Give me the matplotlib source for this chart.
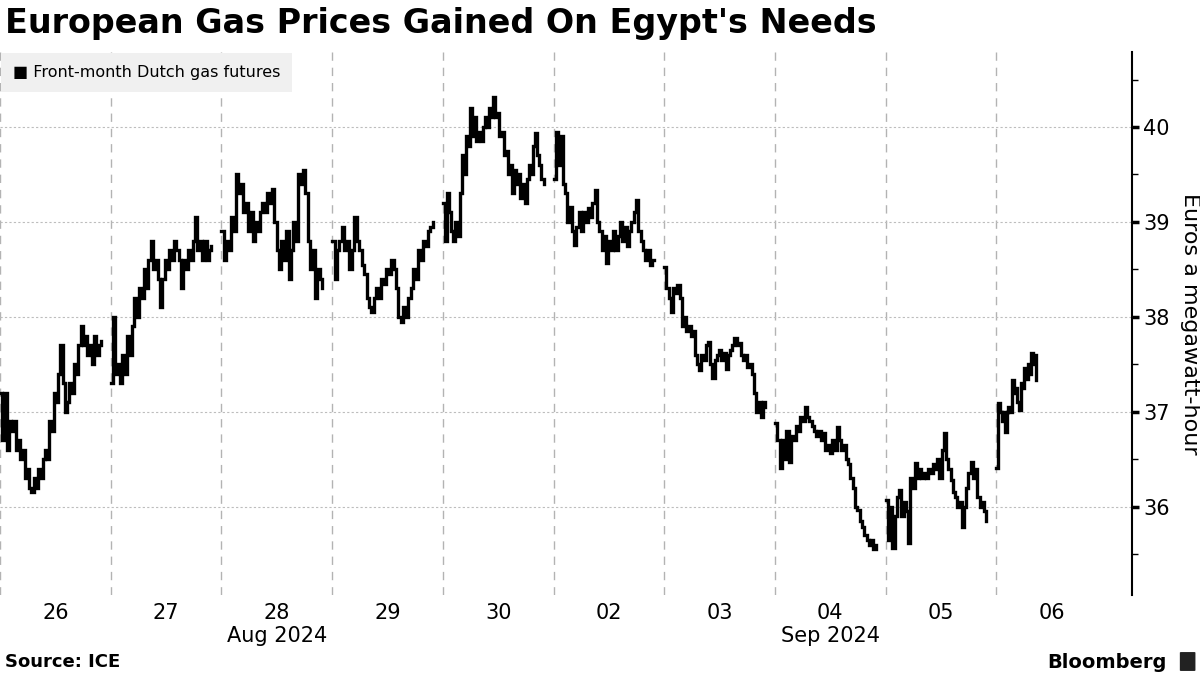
import numpy as np
from matplotlib import pyplot as plt
from matplotlib.patches import FancyBboxPatch


# intraday front-month Dutch gas futures, one list per trading day (EUR/MWh)
days = ["26", "27", "28", "29", "30", "02", "03", "04", "05", "06"]
month_labels = {"28": "Aug 2024", "04": "Sep 2024"}

day26 = [37.2, 36.7, 37.2, 36.6, 36.9, 36.8, 36.9, 36.6, 36.7, 36.5, 36.6, 36.3, 36.4, 36.2,
         36.15, 36.3, 36.2, 36.4, 36.3, 36.5, 36.6, 36.5, 36.9, 36.8, 37.2, 37.1, 37.4, 37.7,
         37.3, 37.0, 37.1, 37.3, 37.2, 37.5, 37.4, 37.7, 37.9, 37.7, 37.8, 37.6, 37.7, 37.5,
         37.8, 37.6, 37.7, 37.75]
day27 = [37.3, 38.0, 37.4, 37.5, 37.3, 37.6, 37.4, 37.8, 37.6, 37.9, 38.2, 38.0, 38.3, 38.2,
         38.5, 38.3, 38.6, 38.8, 38.5, 38.6, 38.4, 38.1, 38.4, 38.6, 38.5, 38.7, 38.6, 38.8,
         38.7, 38.6, 38.3, 38.6, 38.5, 38.7, 38.6, 38.8, 39.05, 38.7, 38.8, 38.6, 38.8, 38.6,
         38.7, 38.75]
day28 = [38.9, 38.6, 38.8, 38.7, 39.05, 38.9, 39.5, 39.3, 39.4, 39.1, 39.2, 38.9, 39.1, 38.8,
         39.0, 38.9, 39.1, 39.2, 39.1, 39.3, 39.2, 39.35, 39.0, 38.7, 38.5, 38.8, 38.6, 38.9,
         38.4, 38.7, 39.0, 38.8, 39.5, 39.4, 39.55, 39.3, 38.8, 38.5, 38.7, 38.2, 38.5, 38.4,
         38.3]
day29 = [38.8, 38.4, 38.7, 38.8, 38.95, 38.7, 38.8, 38.5, 38.7, 39.05, 38.8, 38.7, 38.55,
         38.45, 38.2, 38.1, 38.05, 38.2, 38.3, 38.2, 38.4, 38.35, 38.5, 38.45, 38.6, 38.5,
         38.3, 38.0, 37.95, 38.1, 38.0, 38.2, 38.3, 38.5, 38.4, 38.7, 38.6, 38.8, 38.75, 38.9,
         38.95, 39.0]
day30 = [39.2, 38.8, 39.3, 39.1, 38.9, 38.8, 39.0, 38.85, 39.3, 39.7, 39.5, 39.9, 39.8, 40.2,
         39.9, 40.1, 39.85, 39.95, 39.85, 40.0, 40.1, 40.0, 40.2, 40.1, 40.32, 40.1, 40.15,
         39.9, 39.95, 39.7, 39.75, 39.5, 39.6, 39.3, 39.55, 39.4, 39.5, 39.25, 39.4, 39.2,
         39.45, 39.6, 39.5, 39.8, 39.94, 39.7, 39.6, 39.45, 39.4]
day02 = [39.45, 39.95, 39.6, 39.9, 39.4, 39.3, 39.0, 39.16, 38.9, 38.76, 38.95, 39.1, 38.9,
         39.1, 39.0, 39.15, 39.05, 39.2, 39.34, 39.0, 38.9, 38.7, 38.85, 38.57, 38.8, 38.7,
         38.9, 38.7, 38.85, 39.0, 38.8, 38.95, 38.75, 38.9, 39.0, 39.1, 39.23, 38.9, 38.8,
         38.7, 38.6, 38.7, 38.55, 38.6, 38.6]
day03 = [38.53, 38.3, 38.2, 38.05, 38.3, 38.25, 38.34, 38.2, 37.9, 38.0, 37.85, 37.9, 37.8,
         37.85, 37.6, 37.5, 37.44, 37.6, 37.55, 37.7, 37.74, 37.5, 37.36, 37.55, 37.6, 37.65,
         37.55, 37.62, 37.45, 37.6, 37.65, 37.7, 37.78, 37.7, 37.72, 37.6, 37.55, 37.6, 37.47,
         37.5, 37.4, 37.2, 37.0, 37.1, 36.94, 37.1, 37.05]
day04 = [36.88, 36.7, 36.41, 36.7, 36.5, 36.8, 36.47, 36.75, 36.7, 36.85, 36.8, 36.95, 36.9,
         37.05, 36.95, 36.9, 36.85, 36.8, 36.75, 36.8, 36.7, 36.78, 36.6, 36.65, 36.57, 36.7,
         36.6, 36.84, 36.7, 36.6, 36.65, 36.5, 36.45, 36.3, 36.2, 36.0, 35.97, 35.85, 35.79,
         35.7, 35.65, 35.6, 35.65, 35.55, 35.6]
day05 = [36.07, 35.65, 36.0, 35.57, 35.9, 36.1, 36.18, 35.9, 36.05, 35.95, 35.62, 36.3, 36.2,
         36.46, 36.3, 36.4, 36.3, 36.35, 36.3, 36.4, 36.35, 36.45, 36.4, 36.5, 36.3, 36.6,
         36.78, 36.5, 36.4, 36.28, 36.15, 36.1, 36.0, 36.05, 35.79, 36.0, 36.2, 36.35, 36.47,
         36.3, 36.4, 36.1, 36.0, 36.05, 35.95, 35.85]
day06 = [36.41, 37.09, 37.0, 36.9, 37.0, 36.79, 37.0, 37.05, 37.0, 37.34, 37.2, 37.25, 37.1,
         37.02, 37.3, 37.25, 37.46, 37.35, 37.5, 37.4, 37.62, 37.5, 37.6, 37.34]

prices = [day26, day27, day28, day29, day30, day02, day03, day04, day05, day06]
# share of each day's slot covered by trading (last day is still in progress)
covered = [0.91] * 9 + [0.36]

fig = plt.figure(figsize=(12, 6.75), dpi=100)
ax = fig.add_axes([0.0, 0.1185, 0.9433, 0.8045])

for i, vals in enumerate(prices):
    x = i + covered[i] * np.arange(len(vals)) / (len(vals) - 1)
    ax.plot(x, vals, color="black", lw=2.4, drawstyle="steps-post", solid_joinstyle="miter")

for i in range(len(days)):
    ax.axvline(i, color="#b3b3b3", lw=1, ls=(0, (6, 5)), zorder=0)
for v in [36, 37, 38, 39, 40]:
    ax.axhline(v, color="#bdbdbd", lw=0.8, ls=(0, (2, 2)), zorder=0)

ax.set_xlim(0, 10.225)
ax.set_ylim(35.07, 40.79)

ax.set_xticks(np.arange(len(days)) + 0.5)
ax.set_xticklabels([d + ("\n" + month_labels[d] if d in month_labels else "") for d in days],
                   fontsize=15, linespacing=1.15)
ax.tick_params(axis="x", length=0, pad=6)

ax.yaxis.tick_right()
ax.yaxis.set_label_position("right")
ax.set_yticks([36, 37, 38, 39, 40])
ax.set_yticks(np.arange(35.5, 41, 1.0), minor=True)
ax.tick_params(axis="y", which="major", labelsize=15, length=5, width=2.5, pad=3)
ax.tick_params(axis="y", which="minor", length=4, width=1)
ax.set_ylabel("Euros a megawatt-hour", fontsize=16, rotation=270, labelpad=22)

for s in ["left", "top", "bottom"]:
    ax.spines[s].set_visible(False)
ax.spines["right"].set_linewidth(1.5)

fig.text(0.004, 0.965, "European Gas Prices Gained On Egypt's Needs", fontsize=24,
         fontweight="bold", va="center", ha="left")
fig.text(0.0105, 0.893, "\u25a0 Front-month Dutch gas futures", fontsize=11.5, va="center",
         bbox=dict(boxstyle="square,pad=0.75", fc="#f0f0f0", ec="none"))
fig.text(0.004, 0.019, "Source: ICE", fontsize=13, fontweight="bold", va="center")
fig.text(0.972, 0.019, "Bloomberg", fontsize=14, fontweight="bold", va="center", ha="right")
fig.patches.append(FancyBboxPatch((0.9842, 0.007), 0.011, 0.026, boxstyle="round,pad=0.001",
                                  fc="#222222", ec="none", transform=fig.transFigure))

fig.savefig("out.png", dpi=100)
